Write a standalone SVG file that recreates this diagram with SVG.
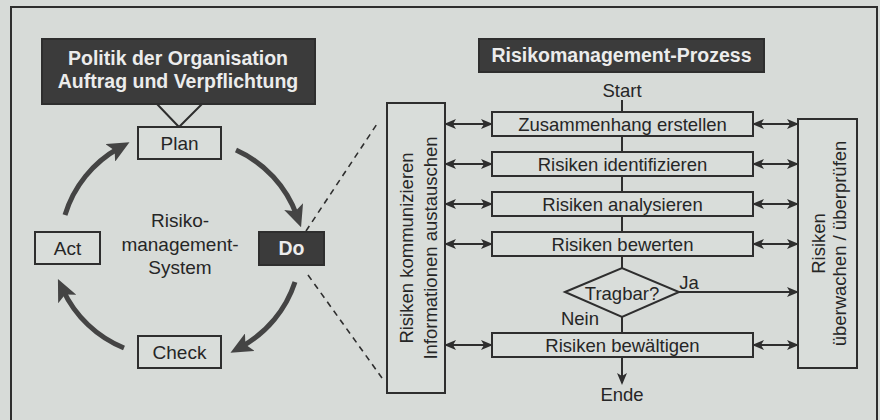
<svg xmlns="http://www.w3.org/2000/svg" width="880" height="420" viewBox="0 0 880 420">
<defs>
<style>
.bg{fill:#d7dbd8}
.box{fill:#d9ddda;stroke:#2e2e2e;stroke-width:2}
.dark{fill:#3b3b3b;stroke:#2e2e2e;stroke-width:2}
.t{font-family:"Liberation Sans",Arial,sans-serif;fill:#262626;text-anchor:middle}
.l{font-size:19px}
.r{font-size:18.5px}
.w{font-family:"Liberation Sans",Arial,sans-serif;font-weight:bold;font-size:19.5px;fill:#ececec;text-anchor:middle}
.ln{stroke:#2e2e2e;stroke-width:2;fill:none}
.dash{stroke:#2e2e2e;stroke-width:1.6;fill:none;stroke-dasharray:6 5}
.cyc{stroke:#444;stroke-width:5;fill:none;marker-end:url(#big)}
.dbl{stroke:#2e2e2e;stroke-width:2;fill:none;marker-start:url(#sm);marker-end:url(#sm)}
.one{stroke:#2e2e2e;stroke-width:2;fill:none;marker-end:url(#sm)}
</style>
<marker id="big" markerUnits="userSpaceOnUse" viewBox="0 0 22 20" markerWidth="22" markerHeight="20" refX="10" refY="10" orient="auto">
<path d="M0,0 L22,10 L0,20 L5,10 z" fill="#444"/>
</marker>
<marker id="sm" markerUnits="userSpaceOnUse" viewBox="0 0 12 10" markerWidth="12" markerHeight="10" refX="10" refY="5" orient="auto-start-reverse">
<path d="M0,0 L12,5 L0,10 L3,5 z" fill="#2e2e2e"/>
</marker>
</defs>
<rect class="bg" x="0" y="0" width="880" height="420"/>
<rect x="11" y="7" width="866" height="440" fill="none" stroke="#2e2e2e" stroke-width="2"/>

<g id="connectors">
<path class="ln" d="M157,104 L179,127 L202,104"/>
<path class="cyc" d="M236,150 A115,115 0 0 1 297,216"/>
<path class="cyc" d="M295,282 A115,115 0 0 1 241,347"/>
<path class="cyc" d="M124,348 A115,115 0 0 1 63,290"/>
<path class="cyc" d="M65,215 A115,115 0 0 1 119,148"/>
<path class="dash" d="M306,231 L379,121"/>
<path class="dash" d="M308,275 L382,378"/>
<path class="ln" d="M622,100 V112 M622,136 V152 M622,176 V192 M622,216 V232 M622,256 V268 M622,317 V333"/>
<path class="one" d="M622,357 V383"/>
<path class="one" d="M679,292 H797"/>
<path class="dbl" d="M446,124 H491"/>
<path class="dbl" d="M446,164 H491"/>
<path class="dbl" d="M446,204 H491"/>
<path class="dbl" d="M446,244 H491"/>
<path class="dbl" d="M446,345 H491"/>
<path class="dbl" d="M754,124 H797"/>
<path class="dbl" d="M754,164 H797"/>
<path class="dbl" d="M754,204 H797"/>
<path class="dbl" d="M754,244 H797"/>
<path class="dbl" d="M754,345 H797"/>
</g>

<g id="politik">
<rect class="dark" x="42" y="39" width="273" height="65"/>
<text class="w" x="178" y="65">Politik der Organisation</text>
<text class="w" x="178" y="88">Auftrag und Verpflichtung</text>
</g>
<g id="plan">
<rect class="box" x="138" y="127" width="83" height="32"/>
<text class="t l" x="179.5" y="150">Plan</text>
</g>
<g id="do">
<rect class="dark" x="259" y="232" width="65" height="33"/>
<text class="w" x="291.5" y="255">Do</text>
</g>
<g id="act">
<rect class="box" x="35" y="232" width="65" height="32"/>
<text class="t l" x="67.5" y="255">Act</text>
</g>
<g id="check">
<rect class="box" x="138" y="336" width="83" height="32"/>
<text class="t l" x="179.5" y="359">Check</text>
</g>
<g id="system">
<text class="t l" x="180" y="227">Risiko-</text>
<text class="t l" x="180" y="251">management-</text>
<text class="t l" x="180" y="274">System</text>
</g>

<g id="kommunizieren">
<rect class="box" x="387" y="103" width="58" height="290"/>
<text class="t r" transform="translate(413,248) rotate(-90)">Risiken kommunizieren</text>
<text class="t r" transform="translate(437,248) rotate(-90)">Informationen austauschen</text>
</g>

<g id="prozess">
<rect class="dark" x="479" y="39" width="285" height="33"/>
<text class="w" x="621.5" y="62">Risikomanagement-Prozess</text>
</g>
<g id="start"><text class="t r" x="622" y="97">Start</text></g>
<g id="zusammenhang">
<rect class="box" x="492" y="112" width="261" height="24"/>
<text class="t r" x="622.5" y="131">Zusammenhang erstellen</text>
</g>
<g id="identifizieren">
<rect class="box" x="492" y="152" width="261" height="24"/>
<text class="t r" x="622.5" y="171">Risiken identifizieren</text>
</g>
<g id="analysieren">
<rect class="box" x="492" y="192" width="261" height="24"/>
<text class="t r" x="622.5" y="211">Risiken analysieren</text>
</g>
<g id="bewerten">
<rect class="box" x="492" y="232" width="261" height="24"/>
<text class="t r" x="622.5" y="251">Risiken bewerten</text>
</g>
<g id="tragbar">
<polygon class="box" points="565,292 622,268 679,292 622,317"/>
<text class="t r" x="622" y="300">Tragbar?</text>
<text class="t r" x="689" y="289">Ja</text>
<text class="t r" x="580" y="325">Nein</text>
</g>
<g id="bewaeltigen">
<rect class="box" x="492" y="333" width="261" height="24"/>
<text class="t r" x="622.5" y="352">Risiken bewältigen</text>
</g>
<g id="ende"><text class="t r" x="622" y="401">Ende</text></g>

<g id="ueberwachen">
<rect class="box" x="798" y="119" width="59" height="249"/>
<text class="t r" transform="translate(825,243.5) rotate(-90)">Risiken</text>
<text class="t r" transform="translate(846,243.5) rotate(-90)">überwachen / überprüfen</text>
</g>
</svg>
